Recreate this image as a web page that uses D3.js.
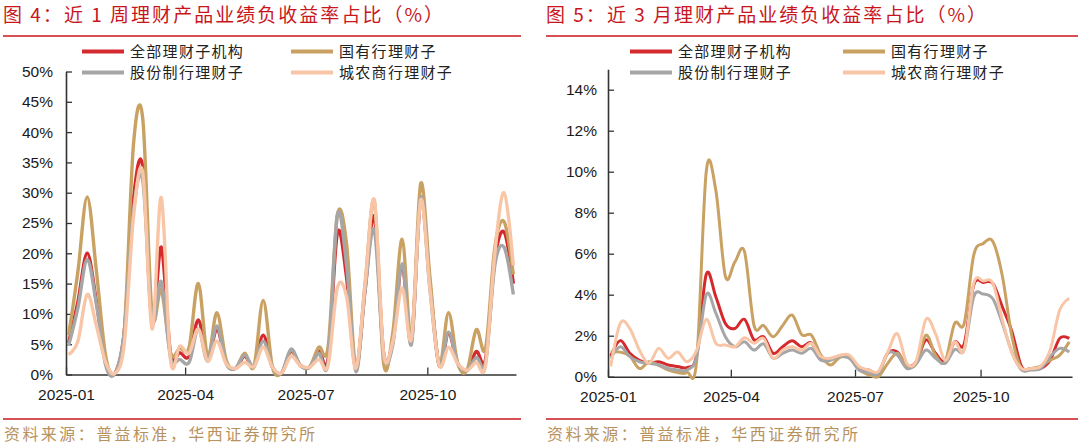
<!DOCTYPE html>
<html>
<head>
<meta charset="utf-8">
<script src="https://cdn.jsdelivr.net/npm/d3@7/dist/d3.min.js"></script>
<style>
  body { margin: 0; background: #fff; }
  svg { display: block; }
  .num { font-family: "Liberation Sans", Arial, sans-serif; }
  .cjk { font-family: "Noto Sans CJK SC", sans-serif; }
</style>
</head>
<body>
<div id="chart"></div>
<script>
// weekly observation dates
var weeks = [
    "2025-01-03", "2025-01-10", "2025-01-17", "2025-01-24", "2025-01-31",
    "2025-02-07", "2025-02-14", "2025-02-21", "2025-02-28",
    "2025-03-07", "2025-03-14", "2025-03-21", "2025-03-28",
    "2025-04-04", "2025-04-11", "2025-04-18", "2025-04-25",
    "2025-05-02", "2025-05-09", "2025-05-16", "2025-05-23", "2025-05-30",
    "2025-06-06", "2025-06-13", "2025-06-20", "2025-06-27",
    "2025-07-04", "2025-07-11", "2025-07-18", "2025-07-25",
    "2025-08-01", "2025-08-08", "2025-08-15", "2025-08-22", "2025-08-29",
    "2025-09-05", "2025-09-12", "2025-09-19", "2025-09-26",
    "2025-10-03", "2025-10-10", "2025-10-17", "2025-10-24", "2025-10-31",
    "2025-11-07", "2025-11-14", "2025-11-21", "2025-11-28",
    "2025-12-05"
];

var seriesNames = ["全部理财子机构", "国有行理财子", "股份制行理财子", "城农商行理财子"];
var seriesColors = ["#d42a2e", "#c9a263", "#a6a6a6", "#f8c6a6"];

// Figure 4: share of negative-return products, last 1 week (%)
var week1All = [5.2, 12, 20, 12, 2, 0.2, 7, 29, 34.3, 8.5, 21, 3.5, 3.6, 3, 9, 2.4, 7.5, 2, 1.0, 3,
    1.3, 6.5, 1.2, 0.3, 3.8, 1.5, 1.2, 3.8, 2.5, 23.3, 16, 1.0, 14, 26, 3.5, 5.5, 18, 5.5, 29, 15,
    1.5, 6.8, 1.8, 0.7, 3.8, 2.5, 19, 23.5, 15];
var week1State = [6.5, 17, 29.3, 17, 3, 0.2, 7, 38, 42.2, 10, 14, 3.5, 4.3, 4.5, 15, 3, 10.2, 2.4, 1.0, 3.5,
    1.3, 12.2, 1.2, 0.3, 4.0, 1.5, 1.2, 4.5, 4.5, 26.3, 21.5, 1.0, 15, 28.5, 1.8, 7, 22.3, 6, 31.5, 16,
    1.5, 10.2, 1.8, 0.7, 7.4, 4.3, 21, 25.2, 16.5];
var week1Joint = [4.8, 11, 19, 11.5, 1.5, 0.2, 7, 27, 32, 9, 15.3, 2.8, 2.5, 2, 7.5, 2.2, 8, 1.8, 1.0, 3.2,
    1.3, 5.5, 1.2, 0.3, 4.2, 1.5, 1.2, 3.5, 2, 26.3, 18, 0.5, 14, 23.8, 3.3, 5, 18.3, 5, 29.2, 14,
    1.5, 7, 1.8, 0.7, 2.8, 2, 18, 21, 13.2];
var week1Rural = [3.3, 5.5, 13.2, 8, 2, 0.2, 5, 26, 33.3, 7.5, 29.2, 2.3, 4.7, 3.5, 7.5, 2.2, 5.5, 1.8, 1.0, 2,
    1.3, 4.5, 1.2, 0.3, 3, 1.5, 1.2, 2.5, 1.5, 14.3, 12.8, 1.0, 15, 28.8, 3.5, 5.5, 14.3, 5.9, 28.8, 14,
    1.5, 4.5, 1.8, 0.7, 2, 1.5, 20, 30, 18];

// Figure 5: share of negative-return products, last 3 months (%)
var month3All = [1.0, 1.76, 1.14, 0.8, 0.65, 0.73, 0.57, 0.5, 0.45, 1.05, 5.0, 3.9, 2.6, 2.35, 2.8, 1.8,
    1.95, 1.14, 1.46, 1.75, 1.46, 1.65, 0.9, 0.85, 1.0, 0.98, 0.4, 0.33, 0.2, 1.14, 1.2, 0.52, 0.73,
    1.8, 1.14, 0.73, 1.7, 1.6, 4.47, 4.6, 4.55, 3.4, 2.2, 0.5, 0.4, 0.4, 0.8, 1.87, 1.87];
var month3State = [1.2, 1.2, 1.0, 0.4, 0.73, 0.57, 0.33, 0.2, 0.2, 0.8, 10.0, 9.1, 4.9, 5.6, 6.1, 2.5,
    2.5, 1.95, 2.5, 3.0, 2.05, 2.03, 1.05, 0.57, 0.95, 0.9, 0.33, 0.1, 0.0, 0.65, 1.14, 0.5, 0.65,
    2.03, 1.05, 0.73, 2.6, 2.6, 5.93, 6.5, 6.6, 4.9, 1.95, 0.4, 0.4, 0.5, 0.8, 1.05, 1.7];
var month3Joint = [0.9, 1.46, 0.98, 0.73, 0.65, 0.57, 0.4, 0.33, 0.33, 0.98, 4.0, 3.1, 1.95, 1.46, 1.7, 1.3,
    1.6, 0.9, 1.14, 1.3, 1.14, 1.38, 0.8, 0.8, 0.98, 0.9, 0.33, 0.2, 0.13, 1.14, 1.05, 0.4, 0.65,
    1.3, 0.9, 0.65, 1.33, 1.33, 3.9, 4.03, 3.8, 2.6, 1.2, 0.33, 0.33, 0.4, 0.98, 1.38, 1.2];
var month3Rural = [0.5, 2.6, 2.35, 1.3, 0.65, 1.38, 0.9, 1.2, 0.73, 1.3, 2.8, 1.63, 1.55, 1.46, 1.9, 1.63,
    1.87, 0.9, 1.3, 1.46, 1.3, 1.63, 0.98, 0.9, 1.05, 1.05, 0.5, 0.33, 0.25, 1.2, 2.1, 0.65, 0.8,
    2.8, 2.1, 0.8, 1.7, 1.3, 4.55, 4.67, 4.55, 2.76, 1.14, 0.4, 0.4, 0.5, 1.3, 3.25, 3.82];

var xTickDates = ["2025-01-01", "2025-04-01", "2025-07-01", "2025-10-01"];
var yTicksWeek = [0, 5, 10, 15, 20, 25, 30, 35, 40, 45, 50];
var yTicksMonth = [0, 2, 4, 6, 8, 10, 12, 14];

var svgWidth = 1080;
var svgHeight = 447;
var parseDate = d3.timeParse("%Y-%m-%d");

var svg = d3.select("#chart")
    .append("svg")
    .attr("width", svgWidth)
    .attr("height", svgHeight);

svg.append("rect")
    .attr("width", svgWidth)
    .attr("height", svgHeight)
    .attr("fill", "#fff");

function drawPanel(cfg) {
    var g = svg.append("g");

    // title and red rules
    g.append("text")
        .attr("class", "cjk")
        .attr("x", cfg.left)
        .attr("y", 22)
        .attr("font-size", 19)
        .attr("fill", "#c8161d")
        .attr("textLength", 440)
        .attr("lengthAdjust", "spacing")
        .text(cfg.title);

    g.append("line")
        .attr("x1", cfg.left).attr("x2", cfg.right)
        .attr("y1", 36).attr("y2", 36)
        .attr("stroke", "#c8161d")
        .attr("stroke-width", 1.5);

    g.append("line")
        .attr("x1", cfg.left).attr("x2", cfg.right)
        .attr("y1", 419).attr("y2", 419)
        .attr("stroke", "#c8161d")
        .attr("stroke-width", 1.5);

    g.append("text")
        .attr("class", "cjk")
        .attr("x", cfg.left + 1)
        .attr("y", 440)
        .attr("font-size", 16)
        .attr("fill", "#b8925e")
        .attr("textLength", 311)
        .attr("lengthAdjust", "spacing")
        .text("资料来源：普益标准，华西证券研究所");

    // scales
    var x = d3.scaleTime()
        .domain([parseDate("2025-01-01"), parseDate("2025-12-07")])
        .range([cfg.x0, cfg.x1]);

    var y = d3.scaleLinear()
        .domain(cfg.yDomain)
        .range([cfg.y0, cfg.yTop]);

    // axes
    var xAxis = d3.axisBottom(x)
        .tickValues(xTickDates.map(parseDate))
        .tickFormat(d3.timeFormat("%Y-%m"))
        .tickSizeInner(-7)
        .tickSizeOuter(0)
        .tickPadding(14);

    var yAxis = d3.axisLeft(y)
        .tickValues(cfg.yTicks)
        .tickFormat(function (d) { return d + "%"; })
        .tickSizeInner(-6)
        .tickSizeOuter(0)
        .tickPadding(cfg.yPad);

    var yG = g.append("g")
        .attr("class", "num")
        .attr("transform", "translate(" + cfg.x0 + ",0)")
        .call(yAxis);

    var xG = g.append("g")
        .attr("class", "num")
        .attr("transform", "translate(0," + cfg.y0 + ")")
        .call(xAxis);

    [xG, yG].forEach(function (a) {
        a.select(".domain").attr("stroke", "#333").attr("stroke-width", 1.6);
        a.selectAll(".tick line").attr("stroke", "#333").attr("stroke-width", 1.3);
        a.selectAll(".tick text")
            .attr("fill", "#1a1a1a")
            .attr("font-size", 15.5)
            .attr("font-family", "Liberation Sans, Arial, sans-serif");
    });

    // lines
    var line = d3.line()
        .x(function (d, i) { return x(parseDate(weeks[i])); })
        .y(function (d) { return y(d); })
        .curve(d3.curveCatmullRom.alpha(0));

    cfg.series.forEach(function (s, k) {
        g.append("path")
            .datum(s)
            .attr("fill", "none")
            .attr("stroke", seriesColors[k])
            .attr("stroke-width", cfg.lineWidth)
            .attr("stroke-linejoin", "round")
            .attr("d", line);
    });

    // legend, two rows by two columns
    seriesNames.forEach(function (name, k) {
        var lx = cfg.legendX[k % 2];
        var ly = k < 2 ? 51.5 : 72.5;
        g.append("line")
            .attr("x1", lx).attr("x2", lx + 42)
            .attr("y1", ly).attr("y2", ly)
            .attr("stroke", seriesColors[k])
            .attr("stroke-width", 4);
        g.append("text")
            .attr("class", "cjk")
            .attr("x", lx + 48)
            .attr("y", ly + 5.5)
            .attr("font-size", 15)
            .attr("letter-spacing", 1.3)
            .attr("fill", "#222")
            .text(name);
    });
}

drawPanel({
    title: "图 4：近 1 周理财产品业绩负收益率占比（%）",
    left: 3, right: 521,
    x0: 66, x1: 516,
    y0: 374.5, yTop: 71.5,
    yDomain: [0, 50],
    yTicks: yTicksWeek,
    yPad: 13,
    lineWidth: 3.4,
    legendX: [82, 291],
    series: [week1All, week1State, week1Joint, week1Rural]
});

drawPanel({
    title: "图 5：近 3 月理财产品业绩负收益率占比（%）",
    left: 546, right: 1078,
    x0: 608, x1: 1072,
    y0: 376.7, yTop: 69.2,
    yDomain: [0, 15],
    yTicks: yTicksMonth,
    yPad: 11,
    lineWidth: 3,
    legendX: [630, 843],
    series: [month3All, month3State, month3Joint, month3Rural]
});
</script>
</body>
</html>
